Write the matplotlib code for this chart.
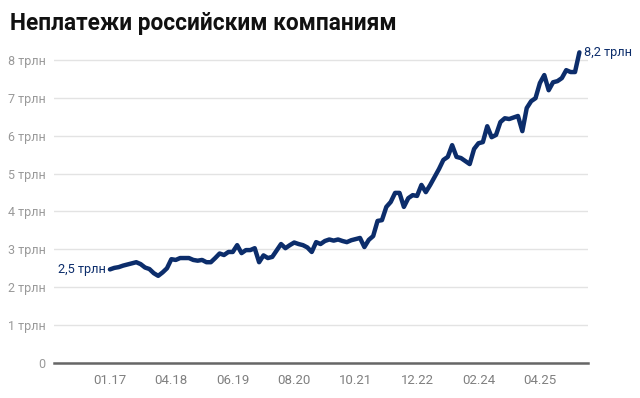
import matplotlib.pyplot as plt
import numpy as np

plt.rcParams['font.family'] = ['Roboto', 'DejaVu Sans']

# неплатежи, трлн руб, помесячно
values = [
    2.47, 2.51, 2.53, 2.57, 2.60, 2.63, 2.66, 2.61, 2.52, 2.48,
    2.37, 2.30, 2.39, 2.50, 2.74, 2.72, 2.77, 2.77, 2.77, 2.72,
    2.70, 2.72, 2.66, 2.66, 2.77, 2.89, 2.85, 2.93, 2.93, 3.11,
    2.90, 2.98, 2.98, 3.03, 2.66, 2.84, 2.77, 2.80, 2.97, 3.14,
    3.03, 3.11, 3.18, 3.14, 3.11, 3.05, 2.93, 3.19, 3.14, 3.22,
    3.26, 3.23, 3.26, 3.22, 3.19, 3.24, 3.27, 3.30, 3.06, 3.25,
    3.35, 3.75, 3.77, 4.12, 4.25, 4.49, 4.49, 4.12, 4.35, 4.43,
    4.41, 4.70, 4.51, 4.70, 4.91, 5.12, 5.36, 5.44, 5.75, 5.44,
    5.41, 5.33, 5.25, 5.65, 5.80, 5.83, 6.25, 5.96, 6.02, 6.36,
    6.46, 6.44, 6.48, 6.52, 6.12, 6.73, 6.91, 6.99, 7.39, 7.60,
    7.20, 7.41, 7.44, 7.52, 7.73, 7.68, 7.68, 8.20,
]
tick_labels = ['01.17', '04.18', '06.19', '08.20', '10.21', '12.22', '02.24', '04.25']
tick_pos = [0, 14, 28, 42, 56, 70, 84, 98]
yticks = [0, 1, 2, 3, 4, 5, 6, 7, 8]
ylabels = ['0'] + [f'{v} трлн' for v in yticks[1:]]
first_label = '2,5 трлн'
last_label = '8,2 трлн'

navy = '#0c2d6b'
x = np.arange(len(values))

fig = plt.figure(figsize=(6.4, 3.98), dpi=100)
ax = fig.add_axes([0.084, 0.088, 0.835, 0.790])

ax.plot(x, values, color=navy, lw=3.2, solid_joinstyle='round', solid_capstyle='round', zorder=3)

ax.set_xlim(-12.8, 109)
ax.set_ylim(0, 8.3)
ax.set_yticks(yticks)
ax.set_yticklabels(ylabels)
ax.set_xticks(tick_pos)
ax.set_xticklabels(tick_labels)
ax.grid(axis='y', color='#e3e3e3', lw=1)
ax.set_axisbelow(True)
for s in ['top', 'right', 'left']:
    ax.spines[s].set_visible(False)
ax.spines['bottom'].set_color('#666666')
ax.spines['bottom'].set_linewidth(1.8)
ax.tick_params(axis='y', length=0, pad=6, labelsize=9, labelcolor='#999999')
ax.tick_params(axis='x', length=0, pad=8, labelsize=9.5, labelcolor='#808080')

ax.annotate(first_label, (x[0], values[0]), xytext=(-3, 0), textcoords='offset points',
            ha='right', va='center', color=navy, fontsize=9.2)
ax.annotate(last_label, (x[-1], values[-1]), xytext=(3, 0), textcoords='offset points',
            ha='left', va='center', color=navy, fontsize=9.2)

fig.text(0.016, 0.942, 'Неплатежи российским компаниям', fontsize=16.3,
         fontweight='bold', ha='left', va='center', color='#111111')

fig.savefig('out.png', dpi=100)
